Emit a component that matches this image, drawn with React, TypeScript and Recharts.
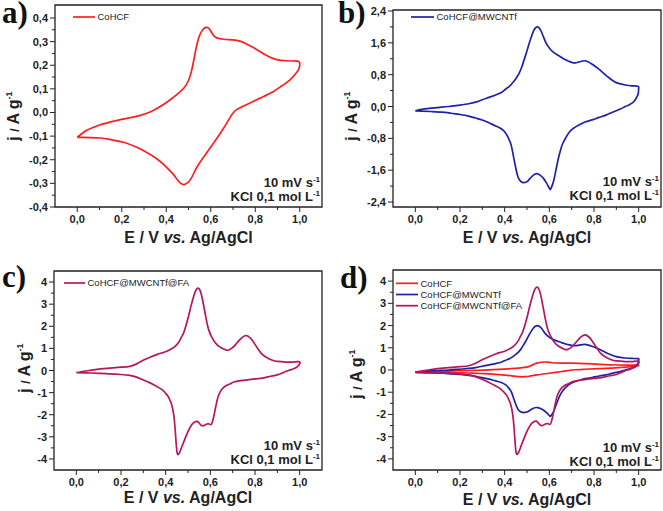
import React from 'react';
import { LineChart, Line, XAxis, YAxis, ReferenceArea } from 'recharts';

// Cyclic voltammograms at 10 mV/s in 0.1 M KCl.
// E in V vs Ag/AgCl, j in A/g. Each sweep starts at 0 V, anodic first, then back.
const COHCF_ANODIC_E = [0, 0.02, 0.045, 0.075, 0.104, 0.15, 0.194, 0.24, 0.284, 0.33, 0.373, 0.418, 0.463, 0.49, 0.507, 0.52, 0.533, 0.548, 0.564, 0.578, 0.59, 0.6, 0.612, 0.627, 0.657, 0.7, 0.731, 0.761, 0.806, 0.851, 0.896, 0.94, 0.97, 0.995];
const COHCF_ANODIC_J = [-0.105, -0.09, -0.074, -0.062, -0.052, -0.04, -0.03, -0.022, -0.012, 0.003, 0.025, 0.054, 0.088, 0.117, 0.153, 0.203, 0.267, 0.322, 0.35, 0.36, 0.357, 0.345, 0.327, 0.316, 0.31, 0.307, 0.302, 0.29, 0.267, 0.241, 0.224, 0.219, 0.218, 0.216];
const COHCF_CATHODIC_E = [1.0, 0.995, 0.985, 0.955, 0.92, 0.88, 0.82, 0.76, 0.716, 0.694, 0.675, 0.657, 0.62, 0.582, 0.545, 0.525, 0.51, 0.495, 0.48, 0.465, 0.45, 0.433, 0.41, 0.388, 0.36, 0.328, 0.29, 0.254, 0.215, 0.179, 0.14, 0.104, 0.06, 0.02, 0];
const COHCF_CATHODIC_J = [0.2, 0.183, 0.168, 0.137, 0.113, 0.088, 0.06, 0.033, 0.012, -0.01, -0.04, -0.068, -0.12, -0.17, -0.22, -0.255, -0.282, -0.298, -0.305, -0.3, -0.285, -0.263, -0.24, -0.22, -0.198, -0.178, -0.158, -0.142, -0.128, -0.12, -0.113, -0.108, -0.106, -0.105, -0.105];

const MWCNT_ANODIC_E = [0, 0.02, 0.04, 0.07, 0.11, 0.15, 0.19, 0.239, 0.27, 0.299, 0.33, 0.36, 0.385, 0.405, 0.42, 0.435, 0.45, 0.465, 0.477, 0.487, 0.5, 0.51, 0.52, 0.528, 0.537, 0.547, 0.555, 0.562, 0.573, 0.585, 0.6, 0.615, 0.635, 0.653, 0.67, 0.69, 0.705, 0.72, 0.74, 0.758, 0.775, 0.79, 0.81, 0.826, 0.85, 0.87, 0.89, 0.91, 0.94, 0.97, 0.997];
const MWCNT_ANODIC_J = [-0.108, -0.08, -0.06, -0.04, -0.02, 0, 0.03, 0.07, 0.11, 0.17, 0.23, 0.29, 0.35, 0.44, 0.5, 0.59, 0.7, 0.84, 1.0, 1.17, 1.4, 1.59, 1.76, 1.88, 1.97, 2.0, 1.97, 1.91, 1.76, 1.6, 1.47, 1.38, 1.3, 1.24, 1.18, 1.13, 1.1, 1.1, 1.13, 1.15, 1.12, 1.07, 0.99, 0.92, 0.8, 0.71, 0.63, 0.58, 0.54, 0.52, 0.51];
const MWCNT_CATHODIC_E = [1.0, 0.998, 0.99, 0.978, 0.96, 0.94, 0.916, 0.88, 0.856, 0.82, 0.795, 0.76, 0.735, 0.71, 0.69, 0.675, 0.66, 0.65, 0.642, 0.633, 0.623, 0.615, 0.607, 0.603, 0.595, 0.585, 0.573, 0.56, 0.547, 0.535, 0.525, 0.513, 0.502, 0.49, 0.48, 0.47, 0.462, 0.457, 0.45, 0.442, 0.435, 0.427, 0.415, 0.405, 0.385, 0.36, 0.33, 0.299, 0.27, 0.239, 0.2, 0.16, 0.12, 0.07, 0.03, 0];
const MWCNT_CATHODIC_J = [0.45, 0.32, 0.22, 0.12, 0.05, 0, -0.07, -0.15, -0.21, -0.28, -0.33, -0.39, -0.46, -0.54, -0.64, -0.77, -0.93, -1.1, -1.27, -1.5, -1.78, -1.95, -2.06, -2.08, -2.0, -1.9, -1.8, -1.73, -1.69, -1.7, -1.74, -1.81, -1.88, -1.91, -1.91, -1.87, -1.8, -1.72, -1.55, -1.33, -1.12, -0.93, -0.77, -0.67, -0.56, -0.49, -0.41, -0.34, -0.29, -0.24, -0.2, -0.17, -0.14, -0.125, -0.115, -0.108];

const FA_ANODIC_E = [0, 0.02, 0.05, 0.1, 0.15, 0.2, 0.239, 0.27, 0.299, 0.33, 0.36, 0.385, 0.405, 0.425, 0.442, 0.46, 0.47, 0.48, 0.49, 0.502, 0.513, 0.525, 0.533, 0.54, 0.547, 0.555, 0.563, 0.573, 0.582, 0.592, 0.607, 0.623, 0.64, 0.66, 0.672, 0.683, 0.698, 0.713, 0.728, 0.743, 0.755, 0.765, 0.775, 0.785, 0.8, 0.815, 0.83, 0.85, 0.878, 0.9, 0.94, 0.97, 0.997];
const FA_ANODIC_J = [-0.1, -0.06, -0.01, 0.06, 0.11, 0.15, 0.19, 0.3, 0.46, 0.6, 0.72, 0.8, 0.87, 0.97, 1.09, 1.3, 1.5, 1.69, 2.0, 2.44, 2.9, 3.34, 3.58, 3.7, 3.72, 3.6, 3.3, 2.78, 2.3, 1.86, 1.5, 1.24, 1.08, 0.97, 0.92, 0.93, 1.02, 1.17, 1.35, 1.5, 1.57, 1.57, 1.5, 1.4, 1.18, 0.95, 0.75, 0.6, 0.46, 0.41, 0.38, 0.38, 0.4];
const FA_CATHODIC_E = [1.0, 0.99, 0.975, 0.95, 0.93, 0.9, 0.87, 0.84, 0.8, 0.765, 0.735, 0.705, 0.69, 0.665, 0.648, 0.636, 0.627, 0.618, 0.61, 0.603, 0.595, 0.585, 0.575, 0.565, 0.557, 0.548, 0.54, 0.527, 0.515, 0.502, 0.49, 0.475, 0.465, 0.458, 0.452, 0.447, 0.442, 0.436, 0.427, 0.415, 0.405, 0.385, 0.36, 0.33, 0.299, 0.27, 0.239, 0.2, 0.15, 0.1, 0.05, 0];
const FA_CATHODIC_J = [0.3, 0.18, 0.09, 0, -0.08, -0.2, -0.26, -0.33, -0.38, -0.42, -0.46, -0.52, -0.6, -0.72, -0.9, -1.15, -1.5, -1.95, -2.3, -2.45, -2.42, -2.42, -2.47, -2.5, -2.46, -2.35, -2.3, -2.35, -2.48, -2.72, -3.0, -3.38, -3.65, -3.78, -3.75, -3.3, -2.6, -2.0, -1.55, -1.25, -1.09, -0.88, -0.72, -0.56, -0.42, -0.3, -0.22, -0.18, -0.15, -0.13, -0.11, -0.1];

// axis ticks
const X_MAJOR = [0, 0.2, 0.4, 0.6, 0.8, 1.0];
const X_MINOR = [0.1, 0.3, 0.5, 0.7, 0.9];
const YA_MAJOR = [-0.4, -0.3, -0.2, -0.1, 0, 0.1, 0.2, 0.3, 0.4];
const YA_MINOR = [-0.35, -0.25, -0.15, -0.05, 0.05, 0.15, 0.25, 0.35];
const YB_MAJOR = [-2.4, -1.6, -0.8, 0, 0.8, 1.6, 2.4];
const YB_MINOR = [-2.0, -1.2, -0.4, 0.4, 1.2, 2.0];
const YC_MAJOR = [-4, -3, -2, -1, 0, 1, 2, 3, 4];
const YC_MINOR = [-3.5, -2.5, -1.5, -0.5, 0.5, 1.5, 2.5, 3.5];

const FONT = '"Liberation Sans", Arial, sans-serif';
const INK = '#222';

const sweep = (e1: number[], j1: number[], e2: number[], j2: number[]) =>
  [...e1.map((E, i) => ({ E, j: j1[i] })), ...e2.map((E, i) => ({ E, j: j2[i] }))];

const COHCF = { name: 'CoHCF', color: '#FF1E1E', data: sweep(COHCF_ANODIC_E, COHCF_ANODIC_J, COHCF_CATHODIC_E, COHCF_CATHODIC_J) };
const MWCNT = { name: 'CoHCF@MWCNTf', color: '#1F22A6', data: sweep(MWCNT_ANODIC_E, MWCNT_ANODIC_J, MWCNT_CATHODIC_E, MWCNT_CATHODIC_J) };
const FA = { name: 'CoHCF@MWCNTf@FA', color: '#B5175E', data: sweep(FA_ANODIC_E, FA_ANODIC_J, FA_CATHODIC_E, FA_CATHODIC_J) };

const comma = (v: number) => v.toFixed(1).replace('.', ',');
const integer = (v: number) => String(Math.round(v));

const isIn = (list: number[], v: number) => list.some(m => Math.abs(m - v) < 1e-9);

const xTick = (props: any) => {
  const { x, y, payload } = props;
  const major = isIn(X_MAJOR, payload.value);
  return (
    <g>
      <line x1={x} y1={y} x2={x} y2={y + (major ? 5 : 3)} stroke={INK} strokeWidth={1} />
      {major && (
        <text x={x} y={y + 16} textAnchor="middle" fontFamily={FONT} fontWeight="bold" fontSize={11} fill={INK}>
          {comma(payload.value)}
        </text>
      )}
    </g>
  );
};

const yTick = (majors: number[], fmt: (v: number) => string) => (props: any) => {
  const { x, y, payload } = props;
  const major = isIn(majors, payload.value);
  return (
    <g>
      <line x1={x} y1={y} x2={x - (major ? 5 : 3)} y2={y} stroke={INK} strokeWidth={1} />
      {major && (
        <text x={x - 7} y={y + 4} textAnchor="end" fontFamily={FONT} fontWeight="bold" fontSize={11} fill={INK}>
          {fmt(payload.value)}
        </text>
      )}
    </g>
  );
};

type PanelProps = {
  left: number; top: number; width: number; height: number;
  margin: { top: number; right: number; bottom: number; left: number };
  yDomain: [number, number];
  yMajor: number[]; yMinor: number[];
  fmt: (v: number) => string;
  series: typeof COHCF[];
};

function Panel({ left, top, width, height, margin, yDomain, yMajor, yMinor, fmt, series }: PanelProps) {
  return (
    <div style={{ position: 'absolute', left, top, width, height }}>
      <LineChart width={width} height={height} margin={margin}>
        <XAxis type="number" dataKey="E" domain={[-0.1, 1.1]} allowDataOverflow height={30}
          ticks={[...X_MAJOR, ...X_MINOR]} interval={0} tick={xTick}
          axisLine={false} tickLine={false} tickSize={0} tickMargin={0} />
        <YAxis type="number" dataKey="j" domain={yDomain} allowDataOverflow width={40}
          ticks={[...yMajor, ...yMinor]} interval={0} tick={yTick(yMajor, fmt)}
          axisLine={false} tickLine={false} tickSize={0} tickMargin={0} />
        <ReferenceArea x1={-0.1} x2={1.1} y1={yDomain[0]} y2={yDomain[1]}
          fill="none" fillOpacity={0} stroke={INK} strokeWidth={1.3} />
        {series.map(s => (
          <Line key={s.name} data={s.data} dataKey="j" type="natural" stroke={s.color}
            strokeWidth={1.7} dot={false} activeDot={false} isAnimationActive={false} />
        ))}
      </LineChart>
    </div>
  );
}

// one legend row per series, stacked downwards from (x, y)
function LegendRows({ x, y, series, len }: { x: number; y: number; series: typeof COHCF[]; len: number }) {
  return (
    <g>
      {series.map((s, i) => (
        <g key={s.name}>
          <line x1={x} y1={y + i * 11.2} x2={x + len} y2={y + i * 11.2} stroke={s.color} strokeWidth={1.7} />
          <text x={x + len + 2.5} y={y + i * 11.2 + 3.4} fontFamily={FONT} fontSize={9.5} fill={INK}>{s.name}</text>
        </g>
      ))}
    </g>
  );
}

function YTitle({ x, y }: { x: number; y: number }) {
  return (
    <text transform={`translate(${x},${y}) rotate(-90)`} textAnchor="middle" fontFamily={FONT}
      fontWeight="bold" fontSize={16} fill={INK}>
      j <tspan fontSize={12}>/</tspan> A g<tspan dy={-7} fontSize={9}>-1</tspan>
    </text>
  );
}

function XTitle({ x, y }: { x: number; y: number }) {
  return (
    <text x={x} y={y} textAnchor="middle" fontFamily={FONT} fontWeight="bold" fontSize={16} fill={INK}>
      E / V <tspan fontStyle="italic">vs.</tspan> Ag/AgCl
    </text>
  );
}

function Conditions({ x, y }: { x: number; y: number }) {
  return (
    <g fontFamily={FONT} fontWeight="bold" fontSize={13} fill={INK}>
      <text x={x} y={y} textAnchor="end">10 mV s<tspan dy={-5} fontSize={8}>-1</tspan></text>
      <text x={x} y={y + 14} textAnchor="end">KCl 0,1 mol L<tspan dy={-5} fontSize={8}>-1</tspan></text>
    </g>
  );
}

function Letter({ x, y, t }: { x: number; y: number; t: string }) {
  return (
    <text x={x} y={y} fontFamily='"Liberation Serif", "Times New Roman", serif' fontWeight="bold" fontSize={31} fill="#111">{t}</text>
  );
}

export default function App() {
  return (
    <div style={{ position: 'absolute', left: 0, top: 0, width: 663, height: 511, background: '#fff', overflow: 'hidden' }}>
      <Panel left={0} top={0} width={331} height={255} margin={{ top: 5, right: 9, bottom: 18, left: 15 }}
        yDomain={[-0.4, 0.455]} yMajor={YA_MAJOR} yMinor={YA_MINOR} fmt={comma} series={[COHCF]} />
      <Panel left={331} top={0} width={332} height={255} margin={{ top: 10, right: 2, bottom: 18, left: 22 }}
        yDomain={[-2.525, 2.425]} yMajor={YB_MAJOR} yMinor={YB_MINOR} fmt={comma} series={[MWCNT]} />
      <Panel left={0} top={255} width={331} height={256} margin={{ top: 16, right: 9, bottom: 11, left: 14 }}
        yDomain={[-4.5, 4.5]} yMajor={YC_MAJOR} yMinor={YC_MINOR} fmt={integer} series={[FA]} />
      <Panel left={331} top={255} width={332} height={256} margin={{ top: 15, right: 2, bottom: 11, left: 22 }}
        yDomain={[-4.5, 4.5]} yMajor={YC_MAJOR} yMinor={YC_MINOR} fmt={integer} series={[COHCF, MWCNT, FA]} />

      <svg width={663} height={511} style={{ position: 'absolute', left: 0, top: 0, pointerEvents: 'none' }}>
        <Letter x={2} y={23} t="a)" />
        <Letter x={338} y={23} t="b)" />
        <Letter x={2} y={287} t="c)" />
        <Letter x={340} y={288} t="d)" />

        <YTitle x={19} y={116} />
        <YTitle x={357} y={116} />
        <YTitle x={30} y={368} />
        <YTitle x={362} y={374} />

        <XTitle x={188.5} y={243} />
        <XTitle x={527} y={243} />
        <XTitle x={188} y={503} />
        <XTitle x={527} y={505} />

        <Conditions x={320} y={187} />
        <Conditions x={659} y={186} />
        <Conditions x={320} y={450} />
        <Conditions x={659} y={452} />

        <LegendRows x={73} y={17} len={22} series={[COHCF]} />
        <LegendRows x={411} y={17} len={23} series={[MWCNT]} />
        <LegendRows x={64} y={283} len={21} series={[FA]} />
        <LegendRows x={396} y={283.3} len={22} series={[COHCF, MWCNT, FA]} />
      </svg>
    </div>
  );
}
